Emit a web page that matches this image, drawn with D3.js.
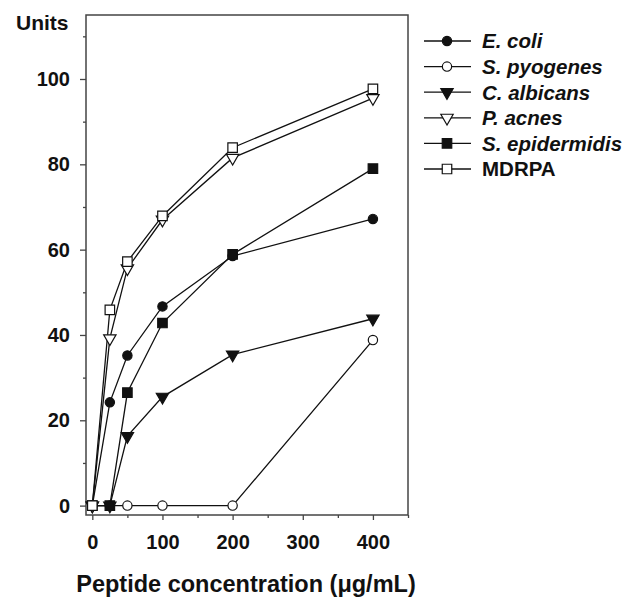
<!DOCTYPE html>
<html>
<head>
<meta charset="utf-8">
<script src="https://cdn.jsdelivr.net/npm/d3@7"></script>
<style>
  body { margin: 0; background: #fff; }
  svg text { font-family: "Liberation Sans", Arial, sans-serif; font-weight: bold; fill: #111; }
</style>
</head>
<body>
<div id="chart"></div>
<script>
const concentrations = [0, 25, 50, 100, 200, 400];
const eColi = [0, 24.2, 35.2, 46.7, 58.5, 67.2];
const sPyogenes = [0, 0, 0, 0, 0, 38.8];
const cAlbicans = [0, 0, 16.3, 25.5, 35.4, 43.8];
const pAcnes = [0, 39.2, 55.6, 67.0, 81.5, 95.5];
const sEpidermidis = [0, 0, 26.5, 42.8, 58.9, 79.0];
const mdrpa = [0, 45.9, 57.2, 67.9, 83.9, 97.7];
const xTicks = [0, 100, 200, 300, 400];
const xMinor = [50, 150, 250, 350, 450];
const yTicks = [0, 20, 40, 60, 80, 100];
const yMinor = [10, 30, 50, 70, 90, 110];

const series = [
  { name: "E. coli", values: eColi, shape: "circle", fill: "#111", italic: true },
  { name: "S. pyogenes", values: sPyogenes, shape: "circle", fill: "#fff", italic: true },
  { name: "C. albicans", values: cAlbicans, shape: "triangle", fill: "#111", italic: true },
  { name: "P. acnes", values: pAcnes, shape: "triangle", fill: "#fff", italic: true },
  { name: "S. epidermidis", values: sEpidermidis, shape: "square", fill: "#111", italic: true },
  { name: "MDRPA", values: mdrpa, shape: "square", fill: "#fff", italic: false }
];

const W = 622, H = 598;
const plot = { left: 86, right: 408, top: 15, bottom: 515 };

const svg = d3.select("#chart").append("svg")
  .attr("width", W)
  .attr("height", H);

const x = d3.scaleLinear().domain([-9, 450]).range([plot.left, plot.right]);
const y = d3.scaleLinear().domain([-2.2, 115]).range([plot.bottom, plot.top]);

// axes
function styleAxis(g) {
  g.select(".domain").remove();
  g.selectAll("line").attr("stroke", "#444").attr("stroke-width", 1.3);
  g.selectAll("text").style("font-size", "20px").attr("fill", "#111");
}

svg.append("g")
  .attr("transform", `translate(${plot.left},0)`)
  .call(d3.axisLeft(y).tickValues(yTicks).tickSize(6).tickSizeOuter(0).tickPadding(10))
  .call(styleAxis);

svg.append("g")
  .attr("transform", `translate(${plot.left},0)`)
  .call(d3.axisLeft(y).tickValues(yMinor).tickSize(3).tickSizeOuter(0).tickFormat(""))
  .call(styleAxis);

svg.append("g")
  .attr("transform", `translate(0,${plot.bottom})`)
  .call(d3.axisBottom(x).tickValues(xTicks).tickSize(5).tickSizeOuter(0).tickPadding(15))
  .call(styleAxis);

svg.append("g")
  .attr("transform", `translate(0,${plot.bottom})`)
  .call(d3.axisBottom(x).tickValues(xMinor).tickSize(3).tickSizeOuter(0).tickFormat(""))
  .call(styleAxis);

// frame
svg.append("rect")
  .attr("x", plot.left)
  .attr("y", plot.top)
  .attr("width", plot.right - plot.left)
  .attr("height", plot.bottom - plot.top)
  .attr("fill", "none")
  .attr("stroke", "#444")
  .attr("stroke-width", 1.5);

svg.append("text")
  .attr("x", 16)
  .attr("y", 30)
  .style("font-size", "21px")
  .text("Units");

svg.append("text")
  .attr("x", 246)
  .attr("y", 592)
  .attr("text-anchor", "middle")
  .style("font-size", "23.5px")
  .text("Peptide concentration (\u03bcg/mL)");

function symbolPath(shape) {
  if (shape === "circle") return d3.symbol(d3.symbolCircle, 68)();
  if (shape === "square") return d3.symbol(d3.symbolSquare, 90)();
  return d3.symbol(d3.symbolTriangle, 66)();
}

function addMarker(g, s, cx, cy) {
  g.append("path")
    .attr("d", symbolPath(s.shape))
    .attr("transform", `translate(${cx},${cy})` + (s.shape === "triangle" ? " rotate(180)" : ""))
    .attr("fill", s.fill)
    .attr("stroke", "#111")
    .attr("stroke-width", 1.2);
}

const line = d3.line()
  .x(d => x(d[0]))
  .y(d => y(d[1]));

series.forEach(s => {
  const pts = concentrations.map((c, i) => [c, s.values[i]]);
  svg.append("path")
    .datum(pts)
    .attr("fill", "none")
    .attr("stroke", "#111")
    .attr("stroke-width", 1.3)
    .attr("d", line);
});

series.forEach(s => {
  const g = svg.append("g");
  concentrations.forEach((c, i) => addMarker(g, s, x(c), y(s.values[i])));
});

// legend
const legend = svg.selectAll(".legend")
  .data(series)
  .join("g")
  .attr("class", "legend")
  .attr("transform", (d, i) => `translate(0, ${41 + i * 25.6})`);

legend.append("line")
  .attr("x1", 424)
  .attr("x2", 471)
  .attr("stroke", "#111")
  .attr("stroke-width", 1.3);

legend.each(function(d) { addMarker(d3.select(this), d, 447, 0); });

legend.append("text")
  .attr("x", 482)
  .attr("dy", "0.36em")
  .style("font-size", "20.5px")
  .style("font-style", d => d.italic ? "italic" : "normal")
  .text(d => d.name);
</script>
</body>
</html>
